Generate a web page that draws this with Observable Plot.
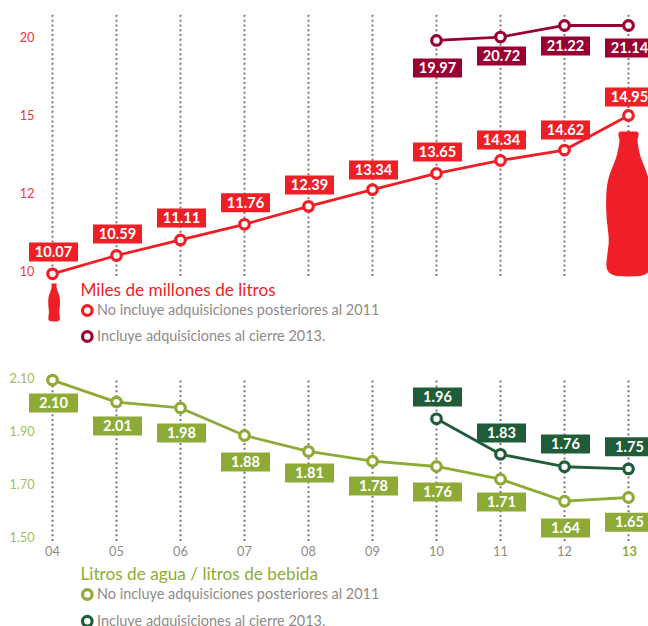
<!DOCTYPE html>
<html>
<head>
<meta charset="utf-8">
<script src="https://cdn.jsdelivr.net/npm/d3@7"></script>
<script src="https://cdn.jsdelivr.net/npm/@observablehq/plot@0.6"></script>
<style>
html,body{margin:0;padding:0;background:#fff;width:648px;height:626px;overflow:hidden}
#top,#bot{position:absolute;left:0}
#top{top:0}#bot{top:350px}
svg{display:block;background:transparent}
</style>
</head>
<body>
<div id="top"></div>
<div id="bot"></div>
<script>
const years = ["04","05","06","07","08","09","10","11","12","13"];
const lateYears = ["10","11","12","13"];

// Volume: printed figures, height as drawn on the axis, height of the label box
const volLabels = ["10.07","10.59","11.11","11.76","12.39","13.34","13.65","14.34","14.62","14.95"];
const volDrawn = [9.94,10.41,10.81,11.21,11.67,12.15,12.77,13.27,13.67,15.0];
const volBox = [10.5,10.96,11.37,11.76,12.33,12.9,13.6,14.06,14.44,16.19];
const volAcqLabels = ["19.97","20.72","21.22","21.14"];
const volAcqDrawn = [19.81,20.03,20.77,20.77];
const volAcqBox = [18.04,18.81,19.46,19.33];

// Water ratio
const aguaLabels = ["2.10","2.01","1.98","1.88","1.81","1.78","1.76","1.71","1.64","1.65"];
const aguaDrawn = [2.094,2.011,1.989,1.885,1.825,1.788,1.768,1.72,1.637,1.651];
const aguaBox = [2.008,1.921,1.894,1.785,1.743,1.694,1.672,1.634,1.536,1.558];
const aguaAcqLabels = ["1.96","1.83","1.76","1.75"];
const aguaAcqDrawn = [1.948,1.814,1.767,1.759];
const aguaAcqBox = [2.03,1.894,1.853,1.842];

const volTicks = [10,12,15,20];
const aguaTicks = [1.5,1.7,1.9,2.1];
const legendNo = "No incluye adquisiciones posteriores al 2011";
const legendSi = "Incluye adquisiciones al cierre 2013.";

const RED="#ee1f27", WINE="#970031", OLIVE="#8dab36", DARK="#215c38", GRAY="#8f8a86", DOT="#7d7674";
const FONT="Lato, 'Open Sans', sans-serif";

const table = (xs, drawn, box, labels) => xs.map((x,i)=>({x, drawn:drawn[i], box:box[i], label:labels[i]}));

// Bottle silhouette: [offset from top, half width] in a 145-tall drawing
const bottleOutline = [[0,8.5],[0.6,9.4],[2,10],[5,10],[7,9.2],[9,9],[14,9.6],[20,10.8],[26,12.3],[32,14.6],[38,17],[44,19.2],[50,20.7],[56,21.7],[64,22.3],[76,22.4],[88,21.8],[98,20.6],[106,19.8],[112,19.8],[120,20.8],[128,21.8],[134,22.2],[138,21.4],[141,19.6],[143,16.6],[144.4,12],[145,0]];
const bottle = {draw(ctx,size){
  const r=Math.sqrt(size/Math.PI), k=r/72.5;
  bottleOutline.forEach(([o,h],i)=>{const y=(o-72.5)*k,x=h*k; i?ctx.lineTo(x,y):ctx.moveTo(x,y);});
  [...bottleOutline].reverse().forEach(([o,h])=>ctx.lineTo(-h*k,(o-72.5)*k));
  ctx.closePath();
}};
const labelBox = {draw(ctx){ctx.rect(-24.5,-9.5,49,19);}};

function series(rows,color){
  return [
    Plot.line(rows,{x:"x",y:"drawn",stroke:color,strokeWidth:2.8}),
    Plot.dot(rows,{x:"x",y:"drawn",r:4.8,stroke:color,strokeWidth:3.2,fill:"#fff"}),
    Plot.dot(rows,{x:"x",y:"box",symbol:labelBox,r:10,fill:color,stroke:"none",dx:1}),
    Plot.text(rows,{x:"x",y:"box",text:"label",fill:"#fff",fontSize:14.6,fontWeight:700,fontFamily:FONT,dx:1})
  ];
}
function legend(title,titleColor,colorNo,colorSi,y0,y1,y2){
  const left={frameAnchor:"top-left",textAnchor:"start",lineAnchor:"middle",fontFamily:FONT};
  return [
    Plot.text([title],{...left,text:d=>d,fill:titleColor,fontSize:17.2,dx:43,dy:y0}),
    Plot.text([legendNo],{...left,text:d=>d,fill:GRAY,fontSize:14.45,dx:59.5,dy:y1}),
    Plot.text([legendSi],{...left,text:d=>d,fill:GRAY,fontSize:14.45,dx:59.5,dy:y2}),
    Plot.dot([0],{frameAnchor:"top-left",dx:49.8,dy:y1,r:4.8,stroke:colorNo,strokeWidth:3.2,fill:"#fff"}),
    Plot.dot([0],{frameAnchor:"top-left",dx:49.8,dy:y2,r:4.8,stroke:colorSi,strokeWidth:3.2,fill:"#fff"})
  ];
}
const xScale={type:"point",domain:years,range:[51.5,628.3],padding:0,axis:null};

const topChart = Plot.plot({
  width:648,height:350,margin:0,marginLeft:37,
  style:{background:"transparent",overflow:"hidden"},
  x:xScale,
  y:{type:"linear",domain:volTicks,range:[271,193,115,37],axis:null},
  marks:[
    Plot.ruleX(years,{x:d=>d,y1:9.87,y2:21.5,stroke:DOT,strokeWidth:2,strokeDasharray:"2 2.8"}),
    Plot.axisY({ticks:volTicks,tickSize:0,tickPadding:3,anchor:"left",fill:"#ee3a42",fontSize:12.8,fontFamily:FONT,label:null,tickFormat:d=>d}),
    Plot.dot(["13"],{x:d=>d,y:[11.73],symbol:bottle,r:72.5,fill:RED,stroke:"none"}),
    Plot.dot(["04"],{x:d=>d,y:[9.205],symbol:bottle,r:19,fill:RED,stroke:"none",dx:1.6}),
    ...series(table(lateYears,volAcqDrawn,volAcqBox,volAcqLabels),WINE),
    ...series(table(years,volDrawn,volBox,volLabels),RED),
    ...legend("Miles de millones de litros",RED,RED,WINE,290,310,336)
  ]
});
document.getElementById("top").append(topChart);

const botChart = Plot.plot({
  width:648,height:276,margin:0,marginLeft:37,
  style:{background:"transparent",overflow:"hidden"},
  x:xScale,
  y:{type:"linear",domain:[1.5,2.1],range:[187,28],axis:null},
  marks:[
    Plot.ruleX(years,{x:d=>d,y1:1.485,y2:2.1,stroke:DOT,strokeWidth:2,strokeDasharray:"2 2.8"}),
    Plot.axisY({ticks:aguaTicks,tickSize:0,tickPadding:3,anchor:"left",fill:"#a5bb5e",fontSize:12.6,fontFamily:FONT,label:null,tickFormat:d=>d.toFixed(2)}),
    Plot.text(years.slice(0,-1),{x:d=>d,frameAnchor:"top",lineAnchor:"middle",text:d=>d,dy:201.7,fill:GRAY,fontSize:12.8,fontFamily:FONT}),
    Plot.text(["13"],{x:d=>d,frameAnchor:"top",lineAnchor:"middle",text:d=>d,dy:201.7,dx:1,fill:OLIVE,fontSize:12.8,fontWeight:700,fontFamily:FONT}),
    ...series(table(years,aguaDrawn,aguaBox,aguaLabels),OLIVE),
    ...series(table(lateYears,aguaAcqDrawn,aguaAcqBox,aguaAcqLabels),DARK),
    ...legend("Litros de agua / litros de bebida",OLIVE,OLIVE,DARK,224,244,270.7)
  ]
});
document.getElementById("bot").append(botChart);
</script>
</body>
</html>
